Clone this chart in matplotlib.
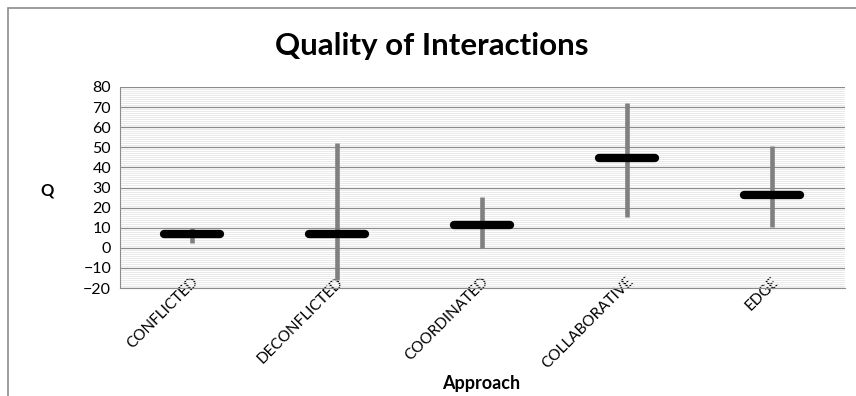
import numpy as np
import matplotlib.pyplot as plt
import matplotlib.transforms as mtransforms
from matplotlib.patches import Rectangle

plt.rcParams['font.family'] = ['Lato', 'DejaVu Sans']

categories = ['CONFLICTED', 'DECONFLICTED', 'COORDINATED', 'COLLABORATIVE', 'EDGE']
means = [6.7, 6.7, 11.3, 44.5, 26.3]
highs = [9.8, 52.0, 25.5, 72.0, 50.7]
lows = [2.2, -16.0, 0.0, 15.2, 10.2]

fig = plt.figure(figsize=(8.56, 3.96), dpi=100)
ax = fig.add_axes([119.5 / 856, 1 - 288 / 396, 725 / 856, 201 / 396])

x = np.arange(len(categories))

# range (high-low) lines
ax.vlines(x, lows, highs, colors='#808080', lw=3.3, zorder=3)
# mean markers
ax.hlines(means, x - 0.195, x + 0.195, colors='black', lw=6.0,
          capstyle='round', zorder=4)

ax.set_xlim(-0.5, len(categories) - 0.5)
ax.set_ylim(-20, 80)
ax.set_yticks(np.arange(-20, 81, 10))
ax.set_yticks(np.arange(-20, 81, 1), minor=True)
ax.grid(axis='y', which='major', color='#8c8c8c', lw=0.9, zorder=1)
ax.grid(axis='y', which='minor', color='#e6e6e6', lw=0.6, zorder=0)
ax.set_axisbelow(True)

ax.set_xticks(x)
ax.set_xticklabels(categories, rotation=45, ha='right', va='center',
                   rotation_mode='anchor', fontsize=11)
ax.tick_params(axis='both', which='both', length=0)
ax.tick_params(axis='y', labelsize=11.5, pad=6)
ax.tick_params(axis='x', pad=-6)

# rotated category labels sit with their ends just right of each tick
shift = mtransforms.ScaledTranslation(4 / 100, 0, fig.dpi_scale_trans)
for lbl in ax.get_xticklabels():
    lbl.set_transform(lbl.get_transform() + shift)

for side in ['top', 'right']:
    ax.spines[side].set_visible(False)
for side in ['left', 'bottom']:
    ax.spines[side].set_color('#8c8c8c')

fig.text(432 / 856, 1 - 46 / 396, 'Quality of Interactions', fontsize=22.5,
         fontweight='bold', ha='center', va='center')

fig.text(47 / 856, 1 - 190 / 396, 'Q', fontsize=12, fontweight='bold',
         ha='center', va='center')
fig.text(481 / 856, 1 - 384 / 396, 'Approach', fontsize=13, fontweight='bold',
         ha='center', va='center')

# chart area border
fig.patches.append(Rectangle((8 / 856, -0.1), 1.2, 1 - 8 / 396 + 0.1,
                             transform=fig.transFigure, fill=False,
                             ec='#8c8c8c', lw=1.2))

fig.savefig('out.png', dpi=100)
